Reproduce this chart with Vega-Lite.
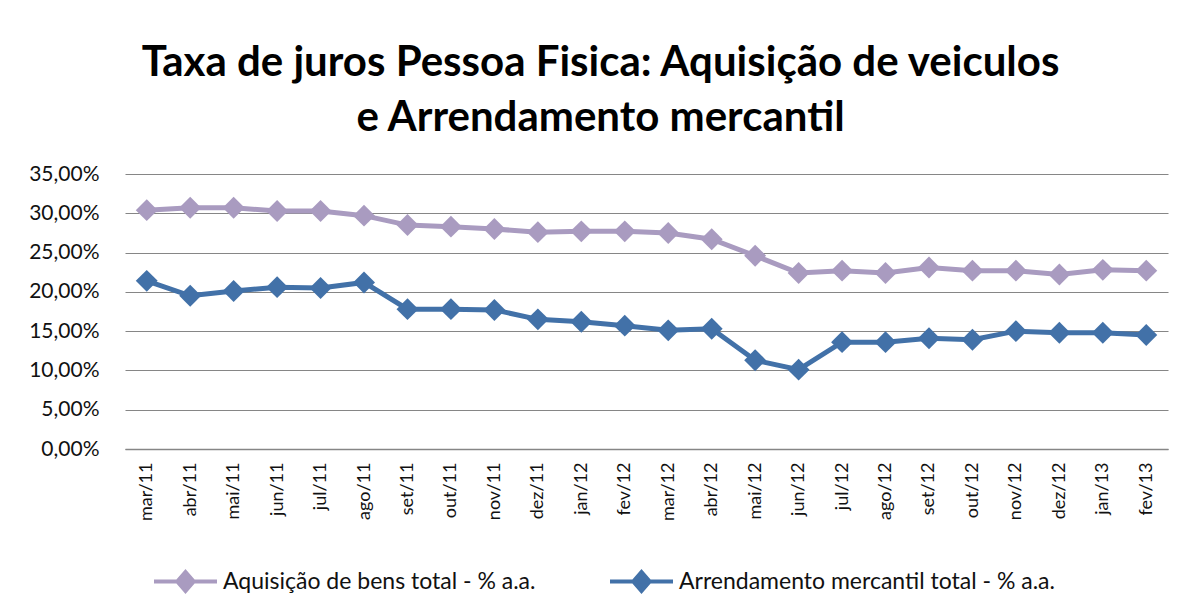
{
  "$schema": "https://vega.github.io/schema/vega-lite/v6.json",
  "width": 1043,
  "height": 275,
  "autosize": {"type": "none"},
  "padding": {"left": 125, "top": 174, "right": 11, "bottom": 160},
  "background": "white",
  "title": {
    "text": ["Taxa de juros Pessoa Fisica: Aquisição de veiculos", "e Arrendamento mercantil"],
    "font": "Lato",
    "fontSize": 42,
    "fontWeight": "bold",
    "color": "black",
    "anchor": "middle",
    "dx": -46,
    "offset": 23,
    "lineHeight": 55
  },
  "data": {
    "values": [
      {"mes": "mar/11", "serie": "Aquisição de bens total - % a.a.", "taxa": 0.304},
      {"mes": "abr/11", "serie": "Aquisição de bens total - % a.a.", "taxa": 0.307},
      {"mes": "mai/11", "serie": "Aquisição de bens total - % a.a.", "taxa": 0.307},
      {"mes": "jun/11", "serie": "Aquisição de bens total - % a.a.", "taxa": 0.303},
      {"mes": "jul/11", "serie": "Aquisição de bens total - % a.a.", "taxa": 0.303},
      {"mes": "ago/11", "serie": "Aquisição de bens total - % a.a.", "taxa": 0.297},
      {"mes": "set/11", "serie": "Aquisição de bens total - % a.a.", "taxa": 0.285},
      {"mes": "out/11", "serie": "Aquisição de bens total - % a.a.", "taxa": 0.283},
      {"mes": "nov/11", "serie": "Aquisição de bens total - % a.a.", "taxa": 0.280},
      {"mes": "dez/11", "serie": "Aquisição de bens total - % a.a.", "taxa": 0.276},
      {"mes": "jan/12", "serie": "Aquisição de bens total - % a.a.", "taxa": 0.277},
      {"mes": "fev/12", "serie": "Aquisição de bens total - % a.a.", "taxa": 0.277},
      {"mes": "mar/12", "serie": "Aquisição de bens total - % a.a.", "taxa": 0.275},
      {"mes": "abr/12", "serie": "Aquisição de bens total - % a.a.", "taxa": 0.267},
      {"mes": "mai/12", "serie": "Aquisição de bens total - % a.a.", "taxa": 0.246},
      {"mes": "jun/12", "serie": "Aquisição de bens total - % a.a.", "taxa": 0.224},
      {"mes": "jul/12", "serie": "Aquisição de bens total - % a.a.", "taxa": 0.227},
      {"mes": "ago/12", "serie": "Aquisição de bens total - % a.a.", "taxa": 0.224},
      {"mes": "set/12", "serie": "Aquisição de bens total - % a.a.", "taxa": 0.231},
      {"mes": "out/12", "serie": "Aquisição de bens total - % a.a.", "taxa": 0.227},
      {"mes": "nov/12", "serie": "Aquisição de bens total - % a.a.", "taxa": 0.227},
      {"mes": "dez/12", "serie": "Aquisição de bens total - % a.a.", "taxa": 0.222},
      {"mes": "jan/13", "serie": "Aquisição de bens total - % a.a.", "taxa": 0.228},
      {"mes": "fev/13", "serie": "Aquisição de bens total - % a.a.", "taxa": 0.227},
      {"mes": "mar/11", "serie": "Arrendamento mercantil total - % a.a.", "taxa": 0.214},
      {"mes": "abr/11", "serie": "Arrendamento mercantil total - % a.a.", "taxa": 0.195},
      {"mes": "mai/11", "serie": "Arrendamento mercantil total - % a.a.", "taxa": 0.201},
      {"mes": "jun/11", "serie": "Arrendamento mercantil total - % a.a.", "taxa": 0.206},
      {"mes": "jul/11", "serie": "Arrendamento mercantil total - % a.a.", "taxa": 0.205},
      {"mes": "ago/11", "serie": "Arrendamento mercantil total - % a.a.", "taxa": 0.212},
      {"mes": "set/11", "serie": "Arrendamento mercantil total - % a.a.", "taxa": 0.178},
      {"mes": "out/11", "serie": "Arrendamento mercantil total - % a.a.", "taxa": 0.178},
      {"mes": "nov/11", "serie": "Arrendamento mercantil total - % a.a.", "taxa": 0.177},
      {"mes": "dez/11", "serie": "Arrendamento mercantil total - % a.a.", "taxa": 0.165},
      {"mes": "jan/12", "serie": "Arrendamento mercantil total - % a.a.", "taxa": 0.162},
      {"mes": "fev/12", "serie": "Arrendamento mercantil total - % a.a.", "taxa": 0.157},
      {"mes": "mar/12", "serie": "Arrendamento mercantil total - % a.a.", "taxa": 0.151},
      {"mes": "abr/12", "serie": "Arrendamento mercantil total - % a.a.", "taxa": 0.153},
      {"mes": "mai/12", "serie": "Arrendamento mercantil total - % a.a.", "taxa": 0.113},
      {"mes": "jun/12", "serie": "Arrendamento mercantil total - % a.a.", "taxa": 0.101},
      {"mes": "jul/12", "serie": "Arrendamento mercantil total - % a.a.", "taxa": 0.136},
      {"mes": "ago/12", "serie": "Arrendamento mercantil total - % a.a.", "taxa": 0.136},
      {"mes": "set/12", "serie": "Arrendamento mercantil total - % a.a.", "taxa": 0.141},
      {"mes": "out/12", "serie": "Arrendamento mercantil total - % a.a.", "taxa": 0.139},
      {"mes": "nov/12", "serie": "Arrendamento mercantil total - % a.a.", "taxa": 0.150},
      {"mes": "dez/12", "serie": "Arrendamento mercantil total - % a.a.", "taxa": 0.148},
      {"mes": "jan/13", "serie": "Arrendamento mercantil total - % a.a.", "taxa": 0.148},
      {"mes": "fev/13", "serie": "Arrendamento mercantil total - % a.a.", "taxa": 0.145}
    ]
  },
  "encoding": {
    "x": {
      "field": "mes",
      "type": "ordinal",
      "sort": null,
      "title": null,
      "axis": {
        "labelAngle": 270,
        "labelFont": "Lato",
        "labelFontSize": 18,
        "labelColor": "#111111",
        "labelPadding": 13,
        "ticks": false,
        "domainColor": "#868686",
        "domainWidth": 1.5,
        "grid": false
      }
    },
    "y": {
      "field": "taxa",
      "type": "quantitative",
      "title": null,
      "scale": {"domain": [0, 0.35], "nice": false},
      "axis": {
        "values": [0, 0.05, 0.1, 0.15, 0.2, 0.25, 0.3, 0.35],
        "labelExpr": "replace(format(datum.value, '.2%'), '.', ',')",
        "labelFont": "Lato",
        "labelFontSize": 21,
        "labelColor": "#111111",
        "labelPadding": 26,
        "ticks": false,
        "domain": false,
        "gridColor": "#868686",
        "gridWidth": 1.2
      }
    },
    "color": {
      "field": "serie",
      "type": "nominal",
      "sort": ["Aquisição de bens total - % a.a.", "Arrendamento mercantil total - % a.a."],
      "scale": {
        "domain": ["Aquisição de bens total - % a.a.", "Arrendamento mercantil total - % a.a."],
        "range": ["#A99BC0", "#4271A8"]
      },
      "legend": {
        "title": null,
        "orient": "none",
        "legendX": 27,
        "legendY": 374,
        "padding": 0,
        "direction": "horizontal",
        "labelFont": "Lato",
        "labelFontSize": 23,
        "labelColor": "#111111",
        "labelLimit": 600,
        "labelOffset": 4,
        "columnPadding": 66,
        "symbolType": "M-1,0H1M0,-0.3L0.26,0L0,0.3L-0.26,0Z",
        "symbolSize": 3969,
        "symbolStrokeWidth": 4,
        "encode": {
          "symbols": {
            "update": {
              "fill": {"scale": "color", "field": "value"},
              "stroke": {"scale": "color", "field": "value"},
              "fillOpacity": {"value": 1},
              "opacity": {"value": 1}
            }
          }
        }
      }
    }
  },
  "layer": [
    {"mark": {"type": "line", "strokeWidth": 5}},
    {"mark": {"type": "point", "shape": "diamond", "filled": true, "size": 480, "opacity": 1}}
  ],
  "config": {
    "view": {"stroke": null}
  }
}
